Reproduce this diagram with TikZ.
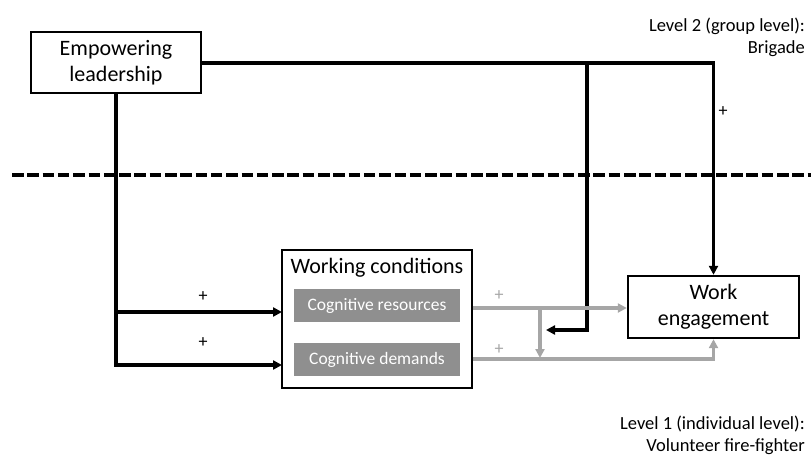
\documentclass[tikz,border=0pt]{standalone}
\usepackage{fontspec}
\setmainfont{Carlito}
\usetikzlibrary{arrows.meta}
\definecolor{linegray}{HTML}{A6A6A6}
\definecolor{boxgray}{HTML}{8F8F8F}
\begin{document}
\begin{tikzpicture}[x=1pt,y=-1pt,
  blk/.style={line width=3.2pt, draw=black},
  gry/.style={line width=3.2pt, draw=linegray},
  tip/.style={-{Triangle[length=9pt,width=9pt]}},
  mainbox/.style={draw=black, line width=2.4pt, fill=white, inner sep=0pt, align=center},
  subbox/.style={fill=boxgray, text=white, inner sep=0pt, minimum width=166pt, minimum height=33pt, font=\fontsize{17.5}{20}\selectfont},
  plus/.style={font=\fontsize{18}{20}\selectfont, inner sep=0pt},
  lvl/.style={font=\fontsize{18.5}{22}\selectfont, align=right, anchor=east, inner sep=0pt}]
\useasboundingbox (0,0) rectangle (811,460);

% level separator
\draw[line width=3.4pt, dash pattern=on 11.5pt off 3.8pt] (12,175) -- (811,175);

% level captions
\node[lvl] (lv2) at (805,37.5) {Level 2 (group level):\\Brigade};
\node[lvl] (lv1) at (805,435.5) {Level 1 (individual level):\\Volunteer fire-fighter};

% boxes
\node[mainbox, minimum width=170pt, minimum height=61pt,
      font=\fontsize{22}{26}\selectfont] (emp) at (116,62.5) {Empowering\\leadership};
\node[mainbox, minimum width=190pt, minimum height=138pt] (wc) at (377,319) {};
\node[inner sep=0pt, font=\fontsize{22}{24}\selectfont] (wct) at (377,268) {Working conditions};
\node[subbox] (res) at (377,305.5) {Cognitive resources};
\node[subbox] (dem) at (377,359.5) {Cognitive demands};
\node[mainbox, minimum width=171pt, minimum height=62pt,
      font=\fontsize{22}{26}\selectfont] (we) at (713.5,307) {Work\\engagement};

% helper points
\coordinate (top) at (0,63);
\coordinate (j1) at (587,63);
\coordinate (ret) at (546,330);
\coordinate (in1) at (282,312);
\coordinate (in2) at (282,365);
\coordinate (ry) at (0,308);
\coordinate (dy) at (0,359);
\coordinate (gj) at (540,308);
\coordinate (gend) at (540,358);

% black paths
\draw[blk, tip] (emp.east |- top) -| (we.north);
\draw[blk, tip] (j1) |- (ret);
\draw[blk, tip] (emp.south) |- (in2);
\draw[blk, tip] (emp.south |- in1) -- (in1);

% grey paths
\draw[gry, tip] (wc.east |- ry) -- (we.west |- ry);
\draw[gry, tip] (gj) -- (gend);
\draw[gry, tip] (wc.east |- dy) -| (we.south);

% signs
\node[plus] (p1) at (203,297) {+};
\node[plus] (p2) at (203,343) {+};
\node[plus, text=linegray] (p3) at (499,296) {+};
\node[plus, text=linegray] (p4) at (499,350) {+};
\node[plus] (p5) at (723,112) {+};
\end{tikzpicture}
\end{document}
